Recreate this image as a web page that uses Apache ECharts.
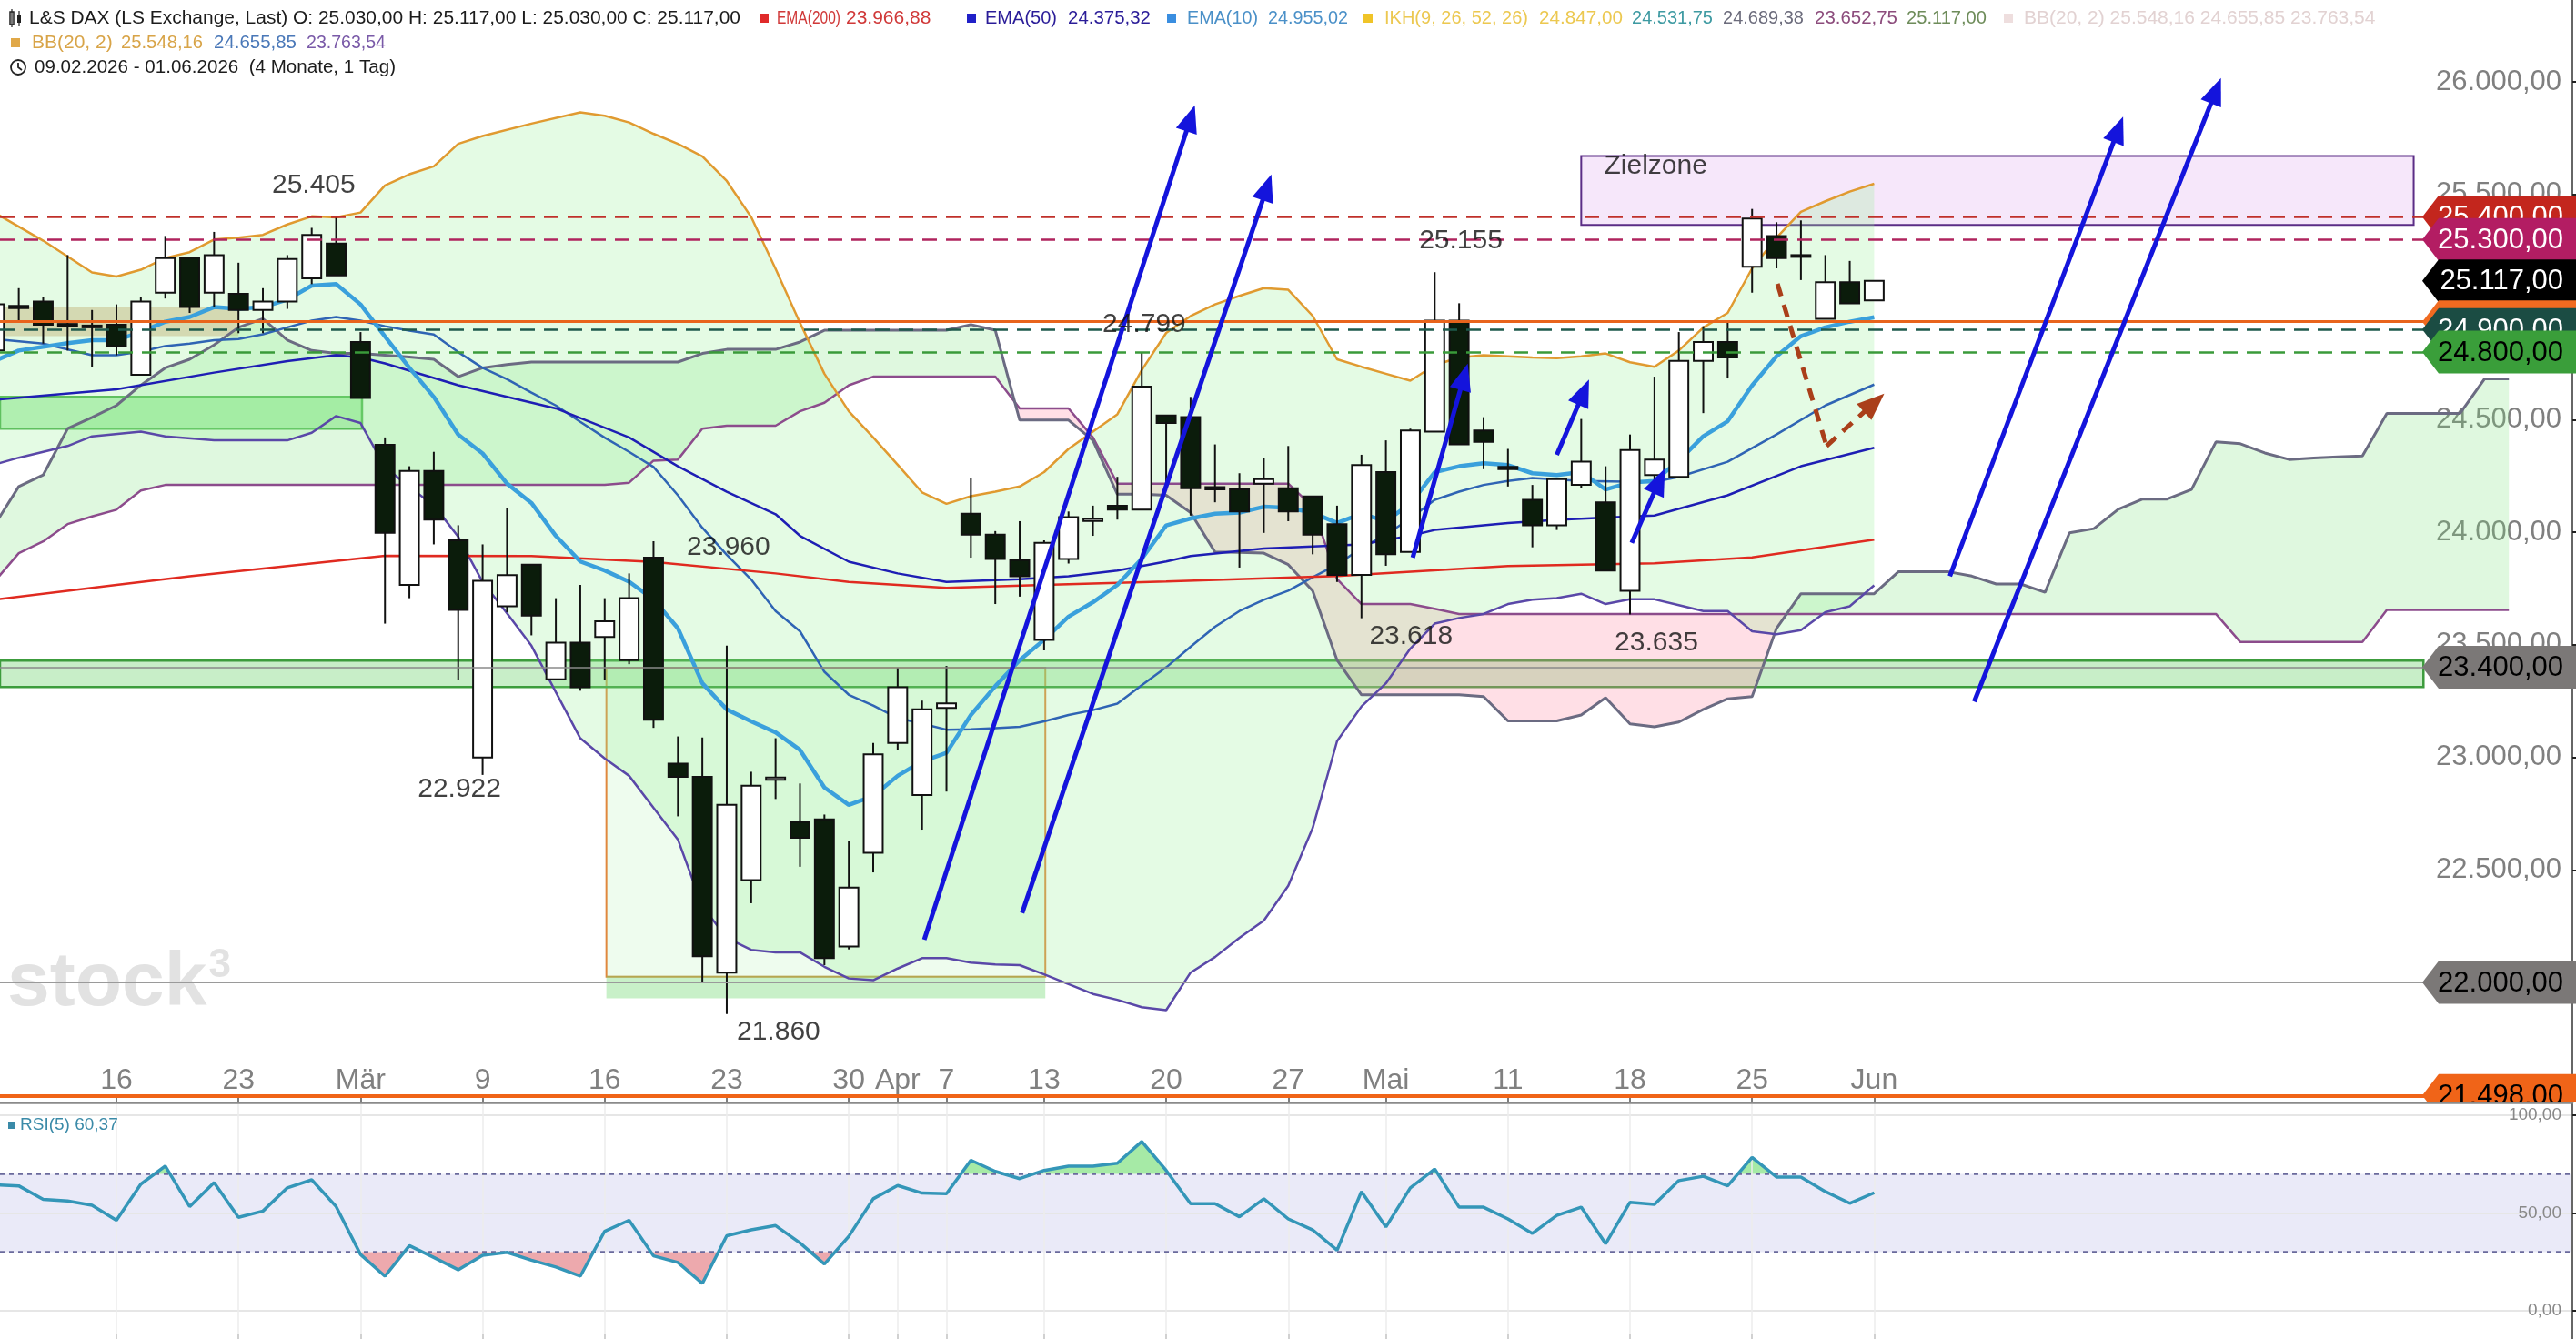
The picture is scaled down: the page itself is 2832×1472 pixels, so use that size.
<!DOCTYPE html>
<html>
<head>
<meta charset="utf-8">
<script src="https://cdn.jsdelivr.net/npm/echarts@6/dist/echarts.min.js"></script>
<style>
  html, body { margin: 0; padding: 0; background: #fff; }
  #chart { width: 2832px; height: 1472px; }
</style>
</head>
<body>
<div id="chart"></div>
<script>
const FONT = '"Liberation Sans", Arial, Helvetica, sans-serif'

// daily candles 09.02.2026 - 01.06.2026, one row per trading day: [open, close, low, high]
const ohlc = [
  [24807, 25012, 24780, 25050], [24995, 25005, 24940, 25084], [25025, 24922, 24838, 25043], [24925, 24920, 24807, 25231],
  [24918, 24912, 24735, 24987], [24922, 24827, 24786, 25012], [24699, 25025, 24699, 25043], [25064, 25218, 25038, 25316],
  [25218, 25000, 24974, 25218], [25064, 25231, 25000, 25334], [25059, 24987, 24884, 25197], [24987, 25025, 24884, 25084],
  [25025, 25213, 24992, 25231], [25128, 25321, 25102, 25352], [25282, 25141, 25141, 25405], [24845, 24596, 24596, 24889],
  [24388, 23997, 23594, 24421], [23766, 24272, 23707, 24293], [24272, 24056, 23946, 24357], [23964, 23655, 23342, 24031],
  [22999, 23784, 22922, 23946], [23671, 23809, 23645, 24108], [23856, 23630, 23542, 23856], [23347, 23509, 23347, 23707],
  [23509, 23311, 23296, 23766], [23535, 23604, 23342, 23707], [23432, 23707, 23414, 23817], [23887, 23167, 23131, 23960],
  [22972, 22913, 22738, 23093], [22913, 22116, 22003, 23088], [22044, 22789, 21860, 23496], [22455, 22874, 22352, 22936],
  [22900, 22910, 22815, 23085], [22712, 22643, 22514, 22884], [22725, 22108, 22077, 22746], [22160, 22422, 22147, 22627],
  [22576, 23013, 22489, 23064], [23064, 23311, 23033, 23398], [22833, 23213, 22679, 23252], [23220, 23240, 22848, 23406],
  [24082, 23989, 23887, 24241], [23989, 23881, 23681, 24005], [23876, 23804, 23714, 24049], [23522, 23953, 23475, 23964],
  [23881, 24067, 23861, 24092], [24050, 24060, 23984, 24118], [24118, 24100, 24056, 24246], [24100, 24647, 24100, 24799],
  [24519, 24485, 24216, 24519], [24511, 24195, 24074, 24601], [24190, 24200, 24133, 24390], [24190, 24092, 23843, 24262],
  [24216, 24236, 23997, 24331], [24195, 24092, 24049, 24383], [24159, 23989, 23902, 24159], [24036, 23810, 23779, 24118],
  [23810, 24298, 23618, 24344], [24267, 23902, 23851, 24408], [23912, 24452, 23912, 24460], [24447, 24940, 24447, 25155],
  [24940, 24390, 24390, 25017], [24452, 24401, 24280, 24511], [24280, 24290, 24203, 24370], [24144, 24031, 23933, 24210],
  [24031, 24236, 24010, 24236], [24210, 24313, 24195, 24503], [24133, 23830, 23830, 24293], [23740, 24365, 23635, 24434],
  [24254, 24323, 24221, 24691], [24246, 24761, 24246, 24889], [24761, 24845, 24529, 24915], [24845, 24776, 24683, 24940],
  [25179, 25393, 25064, 25436], [25316, 25218, 25172, 25377], [25231, 25226, 25120, 25385], [24948, 25110, 24948, 25231],
  [25110, 25017, 25017, 25205], [25030, 25117, 25030, 25117]
]

// x tick positions (trading-day index) and their labels
const xTickIdx = [5, 10, 15, 20, 25, 30, 35, 37, 39, 43, 48, 53, 57, 62, 67, 72, 77]
const xTickText = ['16', '23', 'Mär', '9', '16', '23', '30', 'Apr', '7', '13', '20', '27', 'Mai', '11', '18', '25', 'Jun']

// indicator lines, [day index, value]
const ema200 = [[0, 23700], [5, 23766], [8, 23804], [12, 23850], [16, 23895], [22, 23894], [27, 23868], [32, 23817],
  [35, 23779], [39, 23753], [43, 23766], [48, 23781], [55, 23805], [62, 23850], [68, 23862], [72, 23888], [77, 23967]]
const ema50 = [[0, 24588], [5, 24635], [9, 24709], [12, 24760], [14, 24786], [15, 24776], [16, 24750], [19, 24653],
  [23, 24550], [26, 24421], [28, 24293], [30, 24180], [32, 24080], [33, 23984], [35, 23869], [37, 23817], [39, 23779],
  [42, 23791], [44, 23804], [46, 23830], [48, 23870], [49, 23894], [52, 23928], [56, 23946], [58, 23984], [59, 24010],
  [62, 24041], [64, 24055], [66, 24065], [68, 24074], [71, 24164], [74, 24293], [77, 24375]]
const ema10 = [[0, 24760], [1, 24807], [3, 24840], [4, 24853], [5, 24853], [6, 24889], [7, 24935], [8, 24956], [9, 25000],
  [10, 24992], [11, 25000], [12, 25033], [13, 25095], [14, 25102], [15, 25012], [16, 24870], [17, 24730], [18, 24601],
  [19, 24434], [20, 24350], [21, 24216], [22, 24130], [23, 23984], [24, 23870], [25, 23830], [26, 23780], [27, 23702],
  [28, 23573], [29, 23329], [30, 23213], [31, 23160], [32, 23111], [33, 23033], [34, 22866], [35, 22789], [36, 22828],
  [37, 22918], [38, 22982], [39, 23020], [40, 23188], [41, 23316], [42, 23432], [43, 23522], [44, 23625], [45, 23689],
  [46, 23766], [47, 23882], [48, 24030], [49, 24061], [50, 24082], [51, 24087], [52, 24113], [53, 24108], [54, 24087],
  [55, 24041], [56, 24082], [57, 24049], [58, 24126], [59, 24267], [60, 24293], [61, 24306], [62, 24298], [63, 24262],
  [64, 24254], [65, 24267], [66, 24190], [67, 24221], [68, 24228], [69, 24318], [70, 24426], [71, 24493], [72, 24652],
  [73, 24781], [74, 24871], [75, 24910], [76, 24935], [77, 24955]]
const bbUpper = [[0, 25420], [2, 25295], [4, 25154], [5, 25136], [6, 25166], [7, 25218], [8, 25244], [9, 25300], [10, 25308],
  [11, 25321], [12, 25367], [13, 25403], [14, 25398], [15, 25420], [16, 25540], [17, 25590], [18, 25625], [19, 25725],
  [20, 25760], [22, 25815], [24, 25865], [25, 25850], [26, 25820], [27, 25770], [28, 25725], [29, 25670], [30, 25560],
  [31, 25400], [32, 25170], [33, 24930], [34, 24704], [35, 24537], [36, 24421], [37, 24300], [38, 24177], [39, 24126],
  [40, 24160], [41, 24180], [42, 24203], [43, 24267], [44, 24370], [45, 24447], [46, 24524], [47, 24720], [48, 24885],
  [49, 24960], [50, 25012], [51, 25050], [52, 25084], [53, 25077], [54, 24961], [55, 24768], [56, 24735], [57, 24704],
  [58, 24673], [59, 24742], [60, 24776], [61, 24786], [62, 24781], [63, 24776], [64, 24773], [65, 24781], [66, 24794],
  [67, 24755], [68, 24735], [69, 24807], [70, 24909], [71, 24974], [72, 25172], [73, 25308], [74, 25423], [75, 25470],
  [76, 25513], [77, 25548]]
const bbMiddle = [[0, 24858], [2, 24838], [4, 24786], [5, 24786], [6, 24802], [7, 24827], [8, 24838], [9, 24853], [10, 24858],
  [11, 24879], [12, 24910], [13, 24940], [14, 24956], [15, 24940], [16, 24915], [17, 24895], [18, 24878], [19, 24800],
  [20, 24730], [21, 24680], [22, 24620], [23, 24563], [24, 24490], [25, 24420], [26, 24357], [27, 24290], [28, 24164],
  [29, 24020], [30, 23900], [31, 23790], [32, 23650], [33, 23560], [34, 23380], [35, 23278], [36, 23230], [37, 23175],
  [38, 23150], [39, 23123], [40, 23125], [41, 23130], [42, 23136], [43, 23160], [44, 23188], [45, 23210], [46, 23239],
  [47, 23321], [48, 23400], [49, 23491], [50, 23580], [51, 23650], [52, 23700], [53, 23740], [54, 23800], [55, 23856],
  [56, 23930], [57, 23989], [58, 24061], [59, 24144], [60, 24180], [61, 24210], [62, 24228], [63, 24241], [65, 24228],
  [68, 24223], [69, 24246], [71, 24313], [73, 24434], [75, 24563], [77, 24656]]
const bbLower = [[0, 24300], [1, 24331], [3, 24383], [4, 24426], [6, 24447], [7, 24426], [9, 24408], [12, 24408], [13, 24442],
  [14, 24516], [15, 24485], [16, 24290], [17, 24200], [18, 24120], [19, 23980], [20, 23779], [21, 23640], [22, 23496],
  [23, 23290], [24, 23085], [25, 22995], [26, 22918], [27, 22776], [28, 22635], [29, 22339], [30, 22198], [31, 22145],
  [32, 22134], [33, 22134], [34, 22070], [35, 22018], [36, 22010], [37, 22062], [38, 22108], [39, 22108], [40, 22088],
  [41, 22080], [42, 22077], [43, 22036], [44, 21993], [45, 21949], [46, 21923], [47, 21890], [48, 21877], [49, 22044],
  [50, 22113], [51, 22198], [52, 22275], [53, 22430], [54, 22686], [55, 23072], [56, 23226], [57, 23329], [58, 23483],
  [59, 23594], [60, 23619], [61, 23637], [62, 23681], [63, 23700], [64, 23707], [65, 23727], [66, 23681], [67, 23702],
  [68, 23702], [69, 23676], [70, 23650], [71, 23650], [72, 23560], [73, 23547], [74, 23565], [75, 23645], [76, 23671],
  [77, 23764]]

// Ichimoku spans, one value per day index 0..103 (26 days projected forward)
const senkouA = [24030, 24203, 24254, 24460, 24510, 24563, 24653, 24730, 24768, 24832, 24910, 24948, 24853, 24807, 24794,
  24794, 24786, 24778, 24768, 24691, 24730, 24745, 24756, 24756, 24756, 24756, 24756, 24756, 24756, 24794, 24812, 24812,
  24812, 24845, 24897, 24897, 24897, 24897, 24897, 24897, 24922, 24897, 24498, 24498, 24498, 24408, 24169, 24169, 24164,
  24087, 23912, 23910, 23907, 23856, 23740, 23432, 23278, 23278, 23278, 23278, 23278, 23270, 23162, 23162, 23162, 23188,
  23265, 23149, 23136, 23157, 23213, 23260, 23270, 23573, 23727, 23727, 23727, 23727, 23825, 23825, 23825, 23805, 23770,
  23770, 23733, 23997, 24016, 24102, 24147, 24147, 24190, 24401, 24393, 24352, 24323, 24330, 24335, 24339, 24528, 24528,
  24528, 24528, 24681, 24681]
const senkouB = [23780, 23907, 23959, 24036, 24070, 24100, 24185, 24210, 24210, 24210, 24210, 24210, 24210, 24210, 24210,
  24210, 24210, 24210, 24210, 24210, 24210, 24210, 24210, 24210, 24210, 24210, 24220, 24318, 24323, 24460, 24473, 24473,
  24473, 24537, 24575, 24653, 24691, 24691, 24691, 24691, 24691, 24691, 24550, 24550, 24550, 24421, 24216, 24216, 24216,
  24216, 24216, 24216, 24216, 24216, 24113, 23792, 23681, 23681, 23681, 23660, 23637, 23637, 23637, 23637, 23637, 23637,
  23637, 23637, 23637, 23637, 23637, 23637, 23637, 23637, 23637, 23637, 23637, 23637, 23637, 23637, 23637, 23637, 23637,
  23637, 23637, 23637, 23637, 23637, 23637, 23637, 23637, 23637, 23512, 23512, 23512, 23512, 23512, 23512, 23655, 23655,
  23655, 23655, 23655, 23655]

// RSI(5), one value per trading day
const rsi5 = [64.4, 63.9, 57.0, 56.2, 54.0, 46.3, 64.8, 74.0, 53.3, 65.6, 47.8, 51.0, 62.9, 67.0, 53.3, 28.8, 17.7, 33.3,
  27.3, 21.0, 28.4, 29.9, 25.9, 22.4, 17.7, 40.7, 46.3, 28.1, 24.7, 14.0, 38.4, 41.4, 43.6, 34.7, 23.9, 38.1, 57.3, 64.1,
  60.2, 59.9, 77.0, 71.3, 67.6, 71.8, 74.0, 74.0, 75.5, 86.6, 71.8, 54.8, 54.8, 48.1, 57.3, 47.0, 41.4, 31.0, 61.0, 42.9,
  62.9, 72.5, 53.0, 53.0, 47.0, 39.6, 48.8, 53.0, 34.3, 55.5, 54.4, 66.6, 68.8, 63.9, 78.4, 68.4, 68.4, 61.0, 55.0, 60.37]

const priceTicks = [22000, 22500, 23000, 23500, 24000, 24500, 25000, 25500, 26000]
const rsiTicks = [0, 50, 100]
const rsiBands = [30, 70]

// horizontal levels and their price tags
const levelPrices = [25400, 25300, 24935, 24900, 24800, 23400, 22000, 21498]
const tagPrices = [25400, 25300, 25117, 24935, 24900, 24800, 23400, 22000, 21498]
const tagTexts = ['25.400,00', '25.300,00', '25.117,00', '', '24.900,00', '24.800,00', '23.400,00', '22.000,00', '21.498,00']

// zones: [from day, to day, low, high]
const zielzone = [65.0, 99.1, 25365, 25671]
const boxZone = [25.07, 43.05, 22026, 23398]
const boxFoot = [25.07, 43.05, 21930, 22030]
const zone23400 = [0.2, 99.5, 23312, 23430]
const greenLeft = [0.2, 15.06, 24460, 24601]
const tanLeft = [0.2, 10.0, 24871, 25000]

// price notes: [day, price, text]
const notes = [[13.08, 25540, '25.405'], [19.05, 22857, '22.922'], [30.07, 23932, '23.960'], [32.12, 21778, '21.860'],
  [47.1, 24922, '24.799'], [60.07, 25295, '25.155'], [58.03, 23536, '23.618'], [68.08, 23509, '23.635']]
const zielNote = [65.92, 25625, 'Zielzone']

// drawn arrows: [[day, price], [day, price]]
const blueArrows = [
  [[38.09, 22190], [49.0, 25839]],
  [[42.1, 22309], [52.13, 25532]],
  [[58.1, 23887], [60.2, 24691]],
  [[64.0, 24344], [65.1, 24622]],
  [[67.07, 23953], [68.2, 24228]],
  [[80.1, 23805], [87.0, 25789]],
  [[81.1, 23248], [91.0, 25961]]
]
const brownPath = [[73.04, 25103], [75.05, 24383], [77.0, 24575]]

const X_MIN = 0.231
const X_MAX = 105.6
const Y_MIN = 21467
const Y_MAX = 26364

const chart = echarts.init(document.getElementById('chart'))

function fmtPrice (v) {
  return String(Math.round(v)).replace(/\B(?=(\d{3})+(?!\d))/g, '.') + ',00'
}

// split the area between two lines into runs where a >= b or a < b
function bandRuns (xs, a, b) {
  const runs = []
  let sign = 0
  let top = []
  let bot = []
  for (let k = 0; k < xs.length; k++) {
    const d = a[k] - b[k]
    if (k > 0) {
      const dp = a[k - 1] - b[k - 1]
      if (dp * d < 0) {
        const t = dp / (dp - d)
        const xc = xs[k - 1] + t * (xs[k] - xs[k - 1])
        const yc = a[k - 1] + t * (a[k] - a[k - 1])
        top.push([xc, yc]); bot.push([xc, yc])
        runs.push({ pos: sign > 0, pts: top.concat(bot.reverse()) })
        top = [[xc, yc]]; bot = [[xc, yc]]; sign = 0
      }
    }
    top.push([xs[k], a[k]]); bot.push([xs[k], b[k]])
    if (sign === 0 && d !== 0) sign = d > 0 ? 1 : -1
  }
  runs.push({ pos: sign > 0, pts: top.concat(bot.reverse()) })
  return runs
}

function polygon (api, pts, style) {
  return { type: 'polygon', shape: { points: pts.map(p => api.coord(p)) }, style }
}

function lineSeries (data, color, width, z) {
  return {
    type: 'line', data, symbol: 'none', showSymbol: false, silent: true, z,
    xAxisIndex: 0, yAxisIndex: 0,
    lineStyle: { color, width }
  }
}

function zoneArea (zone, itemStyle) {
  return [{ xAxis: zone[0], yAxis: zone[3], itemStyle }, { xAxis: zone[1], yAxis: zone[2] }]
}

const cloudDays = senkouA.map((v, i) => i)
const rsiDays = rsi5.map((v, i) => i)

const tagFill = ['#c3261d', '#b31d63', '#000000', '#f06a20', '#1b4c43', '#3a9e3a', '#7b7877', '#7b7877', '#f06418']
const tagInk = ['#fff', '#fff', '#fff', '#fff', '#fff', '#000', '#000', '#000', '#000']
const levelStyle = [
  { color: '#c0302a', width: 2.5, type: [16, 10] },
  { color: '#b0245e', width: 2.5, type: [16, 10] },
  { color: '#e8641c', width: 3, type: 'solid' },
  { color: '#1e5a4c', width: 2.5, type: [16, 10] },
  { color: '#3a9a3a', width: 2.5, type: [16, 10] },
  { color: '#8a8a8a', width: 1.5, type: 'solid' },
  { color: '#9a9a9a', width: 2, type: 'solid' },
  { color: '#f06418', width: 4, type: 'solid' }
]

const series = [
  // Ichimoku cloud fill
  {
    type: 'custom', xAxisIndex: 0, yAxisIndex: 0, z: 1, clip: true, silent: true,
    data: [[50, 24000]],
    renderItem: (params, api) => ({
      type: 'group',
      children: bandRuns(cloudDays, senkouA, senkouB).map(r =>
        polygon(api, r.pts, { fill: r.pos ? 'rgba(120,225,120,0.24)' : 'rgba(255,140,165,0.28)' }))
    })
  },
  // Bollinger band fill
  {
    type: 'custom', xAxisIndex: 0, yAxisIndex: 0, z: 1, clip: true, silent: true,
    data: [[50, 24000]],
    renderItem: (params, api) => polygon(api, bbUpper.concat(bbLower.slice().reverse()),
      { fill: 'rgba(150,240,150,0.26)' })
  },
  // zones
  {
    type: 'line', data: [], xAxisIndex: 0, yAxisIndex: 0, z: 2, silent: true,
    markArea: {
      silent: true,
      label: { show: false },
      data: [
        zoneArea(zielzone, { color: '#f6e7fa', borderColor: '#5b2d86', borderWidth: 2 }),
        zoneArea(boxZone, { color: 'rgba(150,235,150,0.16)', borderColor: '#e0883e', borderWidth: 2 }),
        zoneArea(boxFoot, { color: 'rgba(110,215,110,0.38)' }),
        zoneArea(zone23400, { color: 'rgba(110,210,110,0.38)', borderColor: '#3c9c3c', borderWidth: 2.5 }),
        zoneArea(greenLeft, { color: 'rgba(100,220,100,0.45)', borderColor: '#4cb04c', borderWidth: 2.5 })
      ]
    }
  },
  lineSeries(senkouB.map((v, i) => [i, v]), '#8c4c8c', 2.5, 3),
  lineSeries(senkouA.map((v, i) => [i, v]), '#6b6b82', 3, 3),
  lineSeries(bbUpper, '#e09a30', 2.5, 3),
  lineSeries(bbLower, '#5a48a8', 2.5, 3),
  lineSeries(bbMiddle, '#2f64b4', 2.5, 3),
  lineSeries(ema200, '#e02a20', 2.5, 3),
  lineSeries(ema50, '#1e1eb4', 2.5, 3),
  lineSeries(ema10, '#3aa0dc', 4.5, 3),
  // horizontal levels
  {
    type: 'line', data: [], xAxisIndex: 0, yAxisIndex: 0, z: 3, silent: true,
    markLine: {
      silent: true, symbol: 'none', label: { show: false },
      data: levelPrices.map((v, i) => ({ yAxis: v, lineStyle: levelStyle[i] }))
    }
  },
  // candles
  {
    type: 'custom', xAxisIndex: 0, yAxisIndex: 0, z: 4, clip: true, silent: true,
    data: ohlc.map((r, i) => [i, r[0], r[1], r[2], r[3]]),
    encode: { x: 0, y: [1, 2, 3, 4] },
    renderItem: (params, api) => {
      const i = api.value(0)
      const o = api.value(1)
      const c = api.value(2)
      const hi = api.coord([i, api.value(4)])
      const lo = api.coord([i, api.value(3)])
      const top = api.coord([i, Math.max(o, c)])
      const bot = api.coord([i, Math.min(o, c)])
      const w = api.size([1, 0])[0] * 0.78
      const up = c >= o
      return {
        type: 'group',
        children: [
          { type: 'line', shape: { x1: hi[0], y1: hi[1], x2: lo[0], y2: lo[1] }, style: { stroke: '#111', lineWidth: 2 } },
          {
            type: 'rect',
            shape: { x: top[0] - w / 2, y: top[1], width: w, height: Math.max(2, bot[1] - top[1]) },
            style: { fill: up ? '#ffffff' : '#0b1c0b', stroke: '#111', lineWidth: 2 }
          }
        ]
      }
    }
  },
  // tan band drawn over the candles
  {
    type: 'line', data: [], xAxisIndex: 0, yAxisIndex: 0, z: 5, silent: true,
    markArea: {
      silent: true, label: { show: false },
      data: [zoneArea(tanLeft, { color: 'rgba(205,145,95,0.42)' })]
    }
  },
  // arrows
  {
    type: 'line', data: [], xAxisIndex: 0, yAxisIndex: 0, z: 6, silent: true,
    markLine: {
      silent: true, label: { show: false },
      symbol: ['none', 'triangle'], symbolSize: [24, 30],
      lineStyle: { color: '#1414dc', width: 5, type: 'solid' },
      data: blueArrows.map(a => [{ coord: a[0] }, { coord: a[1] }])
    }
  },
  {
    type: 'line', data: [], xAxisIndex: 0, yAxisIndex: 0, z: 6, silent: true,
    markLine: {
      silent: true, label: { show: false },
      lineStyle: { color: '#aa3f1a', width: 5, type: [14, 10] },
      data: [
        [{ coord: brownPath[0], symbol: 'none' }, { coord: brownPath[1], symbol: 'none' }],
        [{ coord: brownPath[1], symbol: 'none' }, { coord: brownPath[2], symbol: 'triangle', symbolSize: [24, 30] }]
      ]
    }
  },
  // price notes
  {
    type: 'scatter', xAxisIndex: 0, yAxisIndex: 0, z: 7, silent: true,
    symbolSize: 1, itemStyle: { color: 'rgba(0,0,0,0)' },
    label: { show: true, position: 'inside', formatter: '{b}', color: '#111', fontSize: 30, fontFamily: FONT },
    data: notes.map(n => ({ name: n[2], value: [n[0], n[1]] })).concat([{
      name: zielNote[2], value: [zielNote[0], zielNote[1]],
      label: { position: 'right', distance: 0 }
    }])
  },
  // price tags at the right edge
  {
    type: 'custom', xAxisIndex: 0, yAxisIndex: 0, z: 10, clip: false, silent: true,
    data: tagPrices.map(v => [X_MAX, v]),
    encode: { x: 0, y: 1 },
    renderItem: (params, api) => {
      const i = params.dataIndex
      const p = api.coord([X_MAX, tagPrices[i]])
      const bottom = api.coord([X_MAX, Y_MIN])[1]
      const tip = p[0] - 165
      const sh = tip + 18
      const h = 23.5
      return {
        type: 'group',
        clipPath: { type: 'rect', shape: { x: 0, y: 0, width: 2832, height: bottom } },
        children: [
          {
            type: 'polygon',
            shape: { points: [[tip, p[1]], [sh, p[1] - h], [2832, p[1] - h], [2832, p[1] + h], [sh, p[1] + h]] },
            style: { fill: tagFill[i] }
          },
          {
            type: 'text', x: p[0] - 10, y: p[1] + 1,
            style: { text: tagTexts[i], fill: tagInk[i], fontSize: 31, fontFamily: FONT, align: 'right', verticalAlign: 'middle' }
          }
        ]
      }
    }
  },
  // RSI pane: band, guide lines
  {
    type: 'line', data: [], xAxisIndex: 1, yAxisIndex: 1, z: 1, silent: true,
    markArea: {
      silent: true, label: { show: false },
      data: [[{ yAxis: rsiBands[0], itemStyle: { color: '#eaeaf8' } }, { yAxis: rsiBands[1] }]]
    },
    markLine: {
      silent: true, symbol: 'none', label: { show: false },
      data: rsiTicks.map(v => ({ yAxis: v, lineStyle: { color: '#e6e6e6', width: 2, type: 'solid' } }))
        .concat(xTickIdx.map(v => ({ xAxis: v, lineStyle: { color: '#ececec', width: 1.5, type: 'solid' } })))
        .concat(rsiBands.map(v => ({ yAxis: v, lineStyle: { color: '#6a6a9c', width: 2.5, type: [5, 5] } })))
    }
  },
  // RSI overbought / oversold fills
  {
    type: 'custom', xAxisIndex: 1, yAxisIndex: 1, z: 3, clip: true, silent: true,
    data: [[40, 50]],
    renderItem: (params, api) => {
      const hiLine = rsi5.map(() => rsiBands[1])
      const loLine = rsi5.map(() => rsiBands[0])
      const over = bandRuns(rsiDays, rsi5, hiLine).filter(r => r.pos)
        .map(r => polygon(api, r.pts, { fill: '#a6eaa6' }))
      const under = bandRuns(rsiDays, loLine, rsi5).filter(r => r.pos)
        .map(r => polygon(api, r.pts, { fill: '#eda9ad' }))
      return { type: 'group', children: over.concat(under) }
    }
  },
  {
    type: 'line', xAxisIndex: 1, yAxisIndex: 1, z: 5, silent: true,
    symbol: 'none', showSymbol: false,
    lineStyle: { color: '#3496b8', width: 3.5 },
    data: rsi5.map((v, i) => [i, v])
  }
]

const xLabel = v => {
  const k = xTickIdx.indexOf(Math.round(v))
  return k >= 0 ? xTickText[k] : ''
}

// header text is squeezed to the widths it has in the reference
const measure = document.createElement('canvas').getContext('2d')
function headerText (x, y, text, color, width) {
  measure.font = '21px ' + FONT
  const natural = measure.measureText(text).width
  const s = width ? Math.min(1, width / natural) : 1
  return {
    type: 'text', x, y, scaleX: s, z: 100,
    style: { text, fill: color, fontSize: 21, fontFamily: FONT, verticalAlign: 'middle' }
  }
}
function headerSquare (x, y, color) {
  return { type: 'rect', x, y: y - 5, z: 100, shape: { width: 10, height: 10 }, style: { fill: color } }
}

const graphic = [
  {
    type: 'text', left: 8, top: 1040, z: 0, silent: true,
    style: {
      text: '{a|stock}{b|3}',
      rich: {
        a: { fontSize: 84, fontWeight: 'bold', fill: '#e2e2e2', fontFamily: FONT },
        b: { fontSize: 44, fontWeight: 'bold', fill: '#e2e2e2', fontFamily: FONT, verticalAlign: 'top', padding: [0, 0, 30, 2] }
      }
    }
  },
  // candle icon
  { type: 'rect', x: 11, y: 13, z: 100, shape: { width: 4, height: 14 }, style: { fill: 'none', stroke: '#222', lineWidth: 1.5 } },
  { type: 'rect', x: 19, y: 16, z: 100, shape: { width: 4, height: 9 }, style: { fill: '#222' } },
  { type: 'line', z: 100, shape: { x1: 13, y1: 10, x2: 13, y2: 30 }, style: { stroke: '#222', lineWidth: 1.2 } },
  { type: 'line', z: 100, shape: { x1: 21, y1: 12, x2: 21, y2: 29 }, style: { stroke: '#222', lineWidth: 1.2 } },
  headerText(32, 20, 'L&S DAX (LS Exchange, Last) O: 25.030,00 H: 25.117,00 L: 25.030,00 C: 25.117,00', '#1c1c1c', 782),
  headerSquare(835, 20, '#e02a2a'), headerText(854, 20, 'EMA(200)', '#d03838', 70), headerText(930, 20, '23.966,88', '#d03838', 95),
  headerSquare(1063, 20, '#2020c8'), headerText(1083, 20, 'EMA(50)', '#2a1c98', 79), headerText(1174, 20, '24.375,32', '#2a1c98', 91),
  headerSquare(1283, 20, '#3a8ee0'), headerText(1305, 20, 'EMA(10)', '#4a90c8', 78), headerText(1394, 20, '24.955,02', '#4a90c8', 88),
  headerSquare(1499, 20, '#f0c428'), headerText(1522, 20, 'IKH(9, 26, 52, 26)', '#ecc850', 158),
  headerText(1692, 20, '24.847,00', '#ecc850', 92),
  headerText(1794, 20, '24.531,75', '#3e9aa2', 89),
  headerText(1894, 20, '24.689,38', '#6c6c7c', 89),
  headerText(1995, 20, '23.652,75', '#8c4c7c', 91),
  headerText(2096, 20, '25.117,00', '#6e8c5a', 88),
  headerSquare(2203, 20, '#eedede'), headerText(2225, 20, 'BB(20, 2) 25.548,16 24.655,85 23.763,54', '#e2d2d2', 394),
  headerSquare(12, 47, '#e0a848'), headerText(35, 47, 'BB(20, 2)', '#d8a448', 91),
  headerText(133, 47, '25.548,16', '#d8a448', 90),
  headerText(235, 47, '24.655,85', '#4a78b8', 91),
  headerText(337, 47, '23.763,54', '#7a5aa8', 87),
  // clock icon
  { type: 'circle', z: 100, shape: { cx: 20, cy: 74, r: 8 }, style: { fill: 'none', stroke: '#222', lineWidth: 1.8 } },
  { type: 'polyline', z: 100, shape: { points: [[20, 69], [20, 74], [24, 77]] }, style: { fill: 'none', stroke: '#222', lineWidth: 1.8 } },
  headerText(38, 74, '09.02.2026 - 01.06.2026  (4 Monate, 1 Tag)', '#1c1c1c', 397),
  // RSI legend
  { type: 'rect', x: 9, y: 1233, z: 100, shape: { width: 8, height: 8 }, style: { fill: '#3a8aa8' } },
  { type: 'text', x: 22, y: 1237, z: 100, style: { text: 'RSI(5) 60,37', fill: '#3a8aa8', fontSize: 19, fontFamily: FONT, verticalAlign: 'middle' } }
]

const option = {
  animation: false,
  backgroundColor: '#ffffff',
  grid: [
    { left: 0, right: 4, top: 0, bottom: 260 },
    { left: 0, right: 4, top: 1214, bottom: 0 }
  ],
  xAxis: [
    {
      type: 'value', gridIndex: 0, min: X_MIN, max: X_MAX,
      axisLine: { show: true, onZero: false, lineStyle: { color: '#8a8a8a', width: 2.5 } },
      axisTick: { show: true, inside: true, length: 6, customValues: xTickIdx, lineStyle: { color: '#555', width: 1.5 } },
      axisLabel: { inside: true, margin: 8, customValues: xTickIdx, formatter: xLabel, color: '#808080', fontSize: 32, fontFamily: FONT },
      splitLine: { show: false }
    },
    {
      type: 'value', gridIndex: 1, min: X_MIN, max: X_MAX,
      axisLine: { show: false, onZero: false },
      axisTick: { show: true, inside: true, length: 6, customValues: xTickIdx, lineStyle: { color: '#555', width: 1.5 } },
      axisLabel: { show: false },
      splitLine: { show: false }
    }
  ],
  yAxis: [
    {
      type: 'value', gridIndex: 0, position: 'right', min: Y_MIN, max: Y_MAX,
      axisLine: { show: true, onZero: false, lineStyle: { color: '#666', width: 2 } },
      axisTick: { show: true, length: 4, customValues: priceTicks, lineStyle: { color: '#222', width: 2 } },
      axisLabel: { inside: true, margin: 12, customValues: priceTicks, formatter: fmtPrice, color: '#7f7f7f', fontSize: 31, fontFamily: FONT },
      splitLine: { show: false }
    },
    {
      type: 'value', gridIndex: 1, position: 'right', min: -14.4, max: 105.6, z: 20,
      axisLine: { show: true, onZero: false, lineStyle: { color: '#666', width: 2 } },
      axisTick: { show: true, length: 4, customValues: rsiTicks, lineStyle: { color: '#222', width: 2 } },
      axisLabel: { inside: true, margin: 12, customValues: rsiTicks, formatter: v => v + ',00', color: '#888', fontSize: 19, fontFamily: FONT },
      splitLine: { show: false }
    }
  ],
  graphic,
  series
}

chart.setOption(option)
</script>
</body>
</html>
